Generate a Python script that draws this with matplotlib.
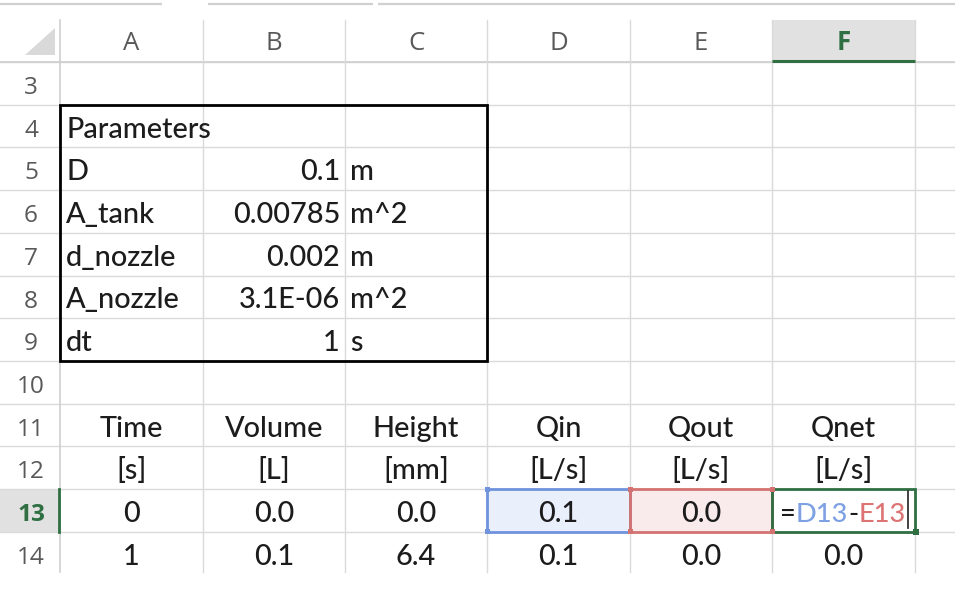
import matplotlib
matplotlib.use('Agg')
import matplotlib.pyplot as plt
from matplotlib.patches import Rectangle, Polygon

# ---------------- data ----------------
col_letters = ['A', 'B', 'C', 'D', 'E', 'F']
row_numbers = [3, 4, 5, 6, 7, 8, 9, 10, 11, 12, 13, 14]
param_title = 'Parameters'
param_names = ['D', 'A_tank', 'd_nozzle', 'A_nozzle', 'dt']
param_values = ['0.1', '0.00785', '0.002', '3.1E-06', '1']
param_units = ['m', 'm^2', 'm', 'm^2', 's']
table_headers = ['Time', 'Volume', 'Height', 'Qin', 'Qout', 'Qnet']
table_units = ['[s]', '[L]', '[mm]', '[L/s]', '[L/s]', '[L/s]']
row13_values = ['0', '0.0', '0.0', '0.1', '0.0']
row14_values = ['1', '0.1', '6.4', '0.1', '0.0', '0.0']
formula_parts = ['=', 'D13', '-', 'E13']

# ---------------- layout ----------------
W, H = 955, 596
col_edges = [60, 203, 345, 487, 630, 772, 915]
head_top, head_bot = 20, 62
row_h = 42.7
grid_bottom = 572

TXT = '#1c1c1c'
HDR = '#595959'
GRID = '#dadada'
GREEN = '#2f6f42'
BLUE = '#6f93dc'
RED = '#d47272'
BLUE_T = '#7da1e3'
RED_T = '#dc7474'
CELL_FONT = ['Lato', 'DejaVu Sans']
HEAD_FONT = ['Open Sans', 'DejaVu Sans']
FS = 20.8
FFS = 19.6
HFS = 17.6
CFS = 18.5
CW = 'medium'

fig = plt.figure(figsize=(W / 100, H / 100), dpi=100)
ax = fig.add_axes([0, 0, 1, 1])
ax.set_xlim(0, W)
ax.set_ylim(H, 0)
ax.axis('off')


def row_top(r):
    return head_bot + (r - row_numbers[0]) * row_h


def base(r):
    return row_top(r) + 33


def col_mid(c):
    return (col_edges[c] + col_edges[c + 1]) / 2


def cell(x, r, s, ha, color=TXT, z=3, fs=FS):
    return ax.text(x, base(r), s, ha=ha, va='baseline', fontsize=fs, color=color,
                   family=CELL_FONT, fontweight=CW, zorder=z)


# top tab-like lines
for x0, x1 in [(0, 162), (208, 373), (378, W)]:
    ax.plot([x0, x1], [4, 4], color='#d0d0d0', lw=1.6, solid_capstyle='butt')

# header highlights
ax.add_patch(Rectangle((col_edges[5], head_top), col_edges[6] - col_edges[5],
                       head_bot - head_top, color='#e1e1e1', lw=0, zorder=0))
ax.add_patch(Rectangle((0, row_top(13)), col_edges[0], row_h, color='#e1e1e1', lw=0, zorder=0))

# selected cell fills
ax.add_patch(Rectangle((col_edges[3], row_top(13)), col_edges[4] - col_edges[3], row_h,
                       color='#e9effb', lw=0, zorder=0))
ax.add_patch(Rectangle((col_edges[4], row_top(13)), col_edges[5] - col_edges[4], row_h,
                       color='#f9ebeb', lw=0, zorder=0))

# corner triangle
ax.add_patch(Polygon([(25, 55), (55, 55), (55, 28)], closed=True, color='#d9d9d9', lw=0))

# grid lines
for r in row_numbers:
    y = row_top(r)
    ax.plot([0, W], [y, y], color=GRID, lw=1, zorder=1)
ax.plot([0, W], [head_bot, head_bot], color='#cfcfcf', lw=1.2, zorder=1)
for i, x in enumerate(col_edges):
    ax.plot([x, x], [head_top, grid_bottom], color='#cfcfcf' if i == 0 else GRID,
            lw=1.2 if i == 0 else 1, zorder=1)

# column letters
for i, c in enumerate(col_letters):
    bold = c == 'F'
    ax.text(col_mid(i), 50, c, ha='center', va='baseline', fontsize=CFS,
            color=GREEN if bold else HDR, family=HEAD_FONT,
            fontweight='bold' if bold else 'normal')
ax.plot([col_edges[5], col_edges[6]], [61, 61], color=GREEN, lw=2.2, zorder=3,
        solid_capstyle='butt')

# row numbers
for r in row_numbers:
    bold = r == 13
    ax.text(31, row_top(r) + 32, str(r), ha='center', va='baseline', fontsize=HFS,
            color=GREEN if bold else HDR, family=HEAD_FONT,
            fontweight='bold' if bold else 'normal')
ax.plot([59, 59], [row_top(13), row_top(14)], color=GREEN, lw=2, zorder=3)

# parameters block
cell(col_edges[0] + 6, 4, param_title, 'left')
for k, (n, v, u) in enumerate(zip(param_names, param_values, param_units)):
    r = 5 + k
    cell(col_edges[0] + 6, r, n, 'left')
    cell(col_edges[2] - 5, r, v, 'right')
    cell(col_edges[2] + 5, r, u, 'left')
ax.add_patch(Rectangle((col_edges[0], row_top(4)), col_edges[3] - col_edges[0],
                       row_top(10) - row_top(4), fill=False, ec='black', lw=2, zorder=4))

# table headers / units / values
for i, (h, u) in enumerate(zip(table_headers, table_units)):
    cell(col_mid(i), 11, h, 'center')
    cell(col_mid(i), 12, u, 'center')
for i, v in enumerate(row13_values):
    cell(col_mid(i), 13, v, 'center')
for i, v in enumerate(row14_values):
    cell(col_mid(i), 14, v, 'center')

# selection borders
y0, y1 = row_top(13), row_top(14)
for c, col in [(3, BLUE), (4, RED)]:
    x0, x1 = col_edges[c], col_edges[c + 1]
    ax.add_patch(Rectangle((x0, y0), x1 - x0, y1 - y0, fill=False, ec=col, lw=2, zorder=5))
    for hx in (x0, x1):
        for hy in (y0, y1):
            ax.add_patch(Rectangle((hx - 2.5, hy - 2.5), 5, 5, color=col, lw=0, zorder=6))
x0, x1 = col_edges[5], col_edges[6]
ax.add_patch(Rectangle((x0, y0), x1 - x0, y1 - y0, fill=False, ec=GREEN, lw=2, zorder=7))
ax.add_patch(Rectangle((x1 - 2.5, y1 - 2.5), 6, 6, color=GREEN, lw=0, zorder=8))
for hy in (y0, y1):
    ax.add_patch(Rectangle((x0 - 2.5, hy - 2.5), 5, 5, color=RED, lw=0, zorder=8))

# formula text in F13
fig.canvas.draw()
renderer = fig.canvas.get_renderer()
colors = [TXT, BLUE_T, TXT, RED_T]
x = x0 + 8
for part, colr in zip(formula_parts, colors):
    t = cell(x, 13, part, 'left', color=colr, z=9, fs=FFS)
    bb = t.get_window_extent(renderer=renderer)
    x += bb.width
ax.plot([x + 2, x + 2], [y0 + 2, y1 - 4], color='#333333', lw=1.3, zorder=9)

fig.savefig('out.png', dpi=100)
